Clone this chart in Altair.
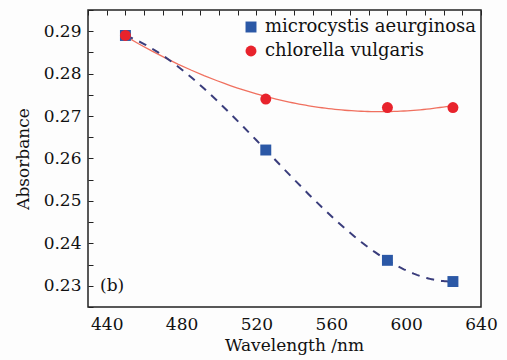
import altair as alt
import pandas as pd

# Measured absorbance at four wavelengths for two algae species
wavelength = [450, 525, 590, 625]
microcystis = [0.289, 0.262, 0.236, 0.231]
chlorella = [0.289, 0.274, 0.272, 0.272]
species = ["microcystis aeurginosa", "chlorella vulgaris"]

x_ticks = list(range(430, 641, 10))
y_ticks = [round(0.225 + 0.005 * i, 3) for i in range(15)]

rows = []
for name, values in zip(species, [microcystis, chlorella]):
    for w, a in zip(wavelength, values):
        rows.append({"wavelength": w, "absorbance": a, "species": name})
df = pd.DataFrame(rows)

FONT = "DejaVu Serif"

x_enc = alt.X(
    "wavelength:Q",
    scale=alt.Scale(domain=[430, 640], nice=False, zero=False),
    axis=alt.Axis(
        values=x_ticks,
        labelExpr="datum.value % 40 == 0 ? datum.label : ''",
        title="Wavelength /nm",
        titleX=206,
        titleAlign="center",
        ticks=False,
        domain=False,
        grid=True,
        gridDash=[5, 2000],
        gridColor="#222222",
        gridWidth=1,
        labelFlush=False,
        labelOverlap=False,
        labelPadding=9,
        titlePadding=5,
    ),
)
y_enc = alt.Y(
    "absorbance:Q",
    scale=alt.Scale(domain=[0.225, 0.295], nice=False, zero=False),
    axis=alt.Axis(
        values=y_ticks,
        labelExpr="round(datum.value * 1000) % 10 == 0 ? format(datum.value, '.2f') : ''",
        title="Absorbance",
        ticks=False,
        domain=False,
        grid=True,
        gridDash=[5, 2000],
        gridColor="#222222",
        gridWidth=1,
        labelOverlap=False,
        labelPadding=7,
        titlePadding=11,
    ),
)

base = alt.Chart(df)

# Quadratic fit for chlorella, cubic fit for microcystis
red_fit = (
    base.transform_filter(alt.datum.species == species[1])
    .transform_regression("wavelength", "absorbance", method="poly", order=2)
    .mark_line(color="#f0705f", strokeWidth=1.3)
    .encode(x=x_enc, y=y_enc)
)
blue_fit = (
    base.transform_filter(alt.datum.species == species[0])
    .transform_regression("wavelength", "absorbance", method="poly", order=3)
    .mark_line(color="#3a3d7c", strokeWidth=2, strokeDash=[8, 7])
    .encode(x=x_enc, y=y_enc)
)

points = base.mark_point(filled=True, opacity=1, size=120, strokeWidth=0).encode(
    x=x_enc,
    y=y_enc,
    color=alt.Color(
        "species:N",
        scale=alt.Scale(domain=species, range=["#2b58a6", "#e8232c"]),
        legend=alt.Legend(
            title=None,
            orient="none",
            legendX=154,
            legendY=8,
            labelFont=FONT,
            labelFontSize=18,
            labelColor="#111111",
            labelLimit=0,
            labelOffset=5,
            rowPadding=6,
            symbolSize=120,
            symbolStrokeWidth=0,
            padding=0,
        ),
    ),
    shape=alt.Shape(
        "species:N",
        scale=alt.Scale(domain=species, range=["square", "circle"]),
    ),
    order=alt.Order("order:Q"),
).transform_calculate(order="datum.species == 'chlorella vulgaris' ? 1 : 0")

panel_label = base.mark_text(
    text="(b)", font=FONT, fontSize=17, align="left", baseline="middle", color="#111111"
).encode(x=alt.value(12), y=alt.value(276)).transform_filter("datum.wavelength == 450 && datum.species == 'chlorella vulgaris'")

chart = (
    alt.layer(red_fit, blue_fit, points, panel_label)
    .properties(
        width=393,
        height=297,
        autosize=alt.AutoSizeParams(type="none"),
        padding={"left": 88, "top": 10, "right": 26, "bottom": 53},
        background="#fdfdfd",
    )
    .configure_view(stroke="#222222", strokeWidth=1.5)
    .configure_axis(
        labelFont=FONT,
        labelFontSize=17,
        labelColor="#111111",
        titleFont=FONT,
        titleFontSize=17,
        titleFontWeight="normal",
        titleColor="#111111",
    )
)

chart.save("out.html", embed_options={"renderer": "svg", "actions": False})
